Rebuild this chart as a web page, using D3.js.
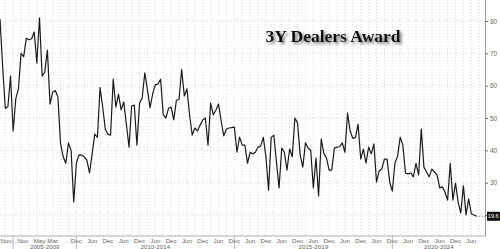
<!DOCTYPE html>
<html>
<head>
<meta charset="utf-8">
<script src="https://cdn.jsdelivr.net/npm/d3@7"></script>
<style>
  body { margin: 0; background: #fff; }
  svg { display: block; }
</style>
</head>
<body>
<svg id="chart" width="500" height="249"></svg>
<script>
// 3Y auction dealer award (%), one value per auction:
// quarterly Aug 2003 - May 2007, then monthly Nov 2008 - Aug 2022
const awards = [
  80.6, 66, 53, 53.5, 63, 46, 56, 59, 70, 69, 74.7, 74.2, 74.5, 76.6, 67, 81,
  63, 64.2, 71, 54.3, 58, 58.5, 56.5, 42, 38, 36, 42.3, 40, 24, 36,
  38.6, 38.5, 38, 37, 33, 39, 45, 44, 59.4, 53.4, 46.5, 45,
  44.7, 62, 53.4, 57.4, 52.5, 55, 48, 41, 53.7, 54, 41.6, 54.6,
  56.2, 64, 58.7, 53.2, 57.5, 60.3, 60.5, 62, 51, 50, 53, 53.4,
  49.4, 55.5, 55.8, 65, 56.8, 59, 51, 44.7, 46.9, 46, 47.8, 49.4,
  50, 41.6, 54.6, 51, 52.5, 54.3, 49, 44.5, 46.6, 46.9, 47, 47.2,
  39.4, 44.1, 41.6, 41.6, 36, 39.4, 38.9, 39.4, 41, 41.3, 44, 38,
  27.7, 44, 44.7, 36.4, 28.4, 40.7, 39.4, 33.9, 40.4, 38, 50, 48.5,
  38.6, 34.8, 42.3, 40.7, 40, 28.4, 37.6, 25.9, 43.5, 39, 37.6, 33.9,
  33.9, 40.7, 41, 41.1, 42.3, 39.4, 51.5, 45.9, 43.7, 44, 48.1, 37.3,
  40.4, 36, 41, 38.9, 42, 30.2, 33.6, 34.2, 37.3, 37.3, 30.2, 27.4,
  36, 38.2, 44.1, 41.6, 33, 32.7, 33, 31.8, 36, 32.4, 46.6, 34.8,
  33.3, 31.8, 34.2, 33.3, 32.4, 28.4, 28.7, 27.1, 24.6, 36, 24.6, 29.9,
  24, 20.6, 29, 20, 25, 20.3, 20, 19.6
];

// bottom axis: position (auction index) and text
const tickIndex = [2.3, 5.3, 8.7, 15, 20, 25.5, 29, 35, 41, 47, 53, 59, 65, 71, 77, 83,
  89, 95, 101, 107, 113, 119, 125, 131, 137, 143, 149, 155, 161, 167, 173, 179];
const tickLabels = ["Nov", "\u2026", "Nov", "May", "Mar", "\u2026", "Dec", "Jun", "Dec", "Jun",
  "Dec", "Jun", "Dec", "Jun", "Dec", "Jun", "Dec", "Jun", "Dec", "Jun", "Dec", "Jun", "Dec",
  "Jun", "Dec", "Jun", "Dec", "Jun", "Dec", "Jun", "Dec", "Jun"];

const groupStart = [5, 29, 89, 149];
const groupNames = ["2005-2009", "2010-2014", "2015-2019", "2020-2024"];

const yTicks = [20, 30, 40, 50, 60, 70, 80];
const lastLabel = "19.6";

const plotRight = 485.5, plotBottom = 236;
const sans = "'Liberation Sans', Arial, sans-serif";

const svg = d3.select("#chart");

const x = d3.scaleLinear().domain([0, 184.2]).range([0, 485]);
const y = d3.scaleLinear().domain([13.5, 86.5]).range([plotBottom, 0]);

const last = awards[awards.length - 1];

// grid
const grid = svg.append("g").attr("stroke", "#c8c8c8").attr("stroke-width", 0.7)
  .attr("stroke-dasharray", "1,2");

grid.selectAll(".vg")
  .data(d3.range(2, 184, 3))
  .enter().append("line")
  .attr("x1", d => x(d)).attr("x2", d => x(d))
  .attr("y1", 0).attr("y2", plotBottom);

grid.selectAll(".hg")
  .data(yTicks)
  .enter().append("line")
  .attr("x1", 0).attr("x2", plotRight)
  .attr("y1", d => y(d)).attr("y2", d => y(d));

// title
const defs = svg.append("defs");
defs.append("filter").attr("id", "shadow")
  .attr("x", "-10%").attr("y", "-30%").attr("width", "130%").attr("height", "180%")
  .append("feDropShadow")
  .attr("dx", 2).attr("dy", 2).attr("stdDeviation", 1.5)
  .attr("flood-color", "#555").attr("flood-opacity", 0.85);

svg.append("text")
  .attr("x", 333).attr("y", 42)
  .attr("text-anchor", "middle")
  .attr("font-family", "'Liberation Serif', 'Times New Roman', serif")
  .attr("font-weight", "bold")
  .attr("font-size", 17.5)
  .attr("fill", "#111")
  .attr("filter", "url(#shadow)")
  .text("3Y Dealers Award");

// series
const line = d3.line()
  .x((d, i) => x(i))
  .y(d => y(d));

svg.append("path")
  .datum(awards)
  .attr("fill", "none")
  .attr("stroke", "#1a1a1a")
  .attr("stroke-width", 1.2)
  .attr("stroke-linejoin", "round")
  .attr("d", line);

// right axis (the label nearest the last value is covered by its marker)
const yAxis = d3.axisRight(y).tickValues(yTicks).tickSize(2.5).tickPadding(2)
  .tickFormat(d => Math.abs(d - last) < 3 ? "" : d);
const ya = svg.append("g")
  .attr("transform", "translate(" + plotRight + ",0)")
  .call(yAxis);
ya.select(".domain").attr("stroke", "#999").attr("d", "M0,0V" + plotBottom);
ya.selectAll(".tick line").attr("stroke", "#666");
ya.selectAll(".tick text")
  .attr("fill", "#666")
  .attr("font-family", sans)
  .attr("font-size", 6.5);

// last value marker
const lastY = y(last);
svg.append("line")
  .attr("x1", x(awards.length - 1)).attr("x2", plotRight)
  .attr("y1", lastY).attr("y2", lastY)
  .attr("stroke", "#555").attr("stroke-width", 0.7).attr("stroke-dasharray", "1,1.5");
svg.append("rect")
  .attr("x", plotRight + 1.5).attr("y", lastY - 4.5)
  .attr("width", 13).attr("height", 9)
  .attr("fill", "#111");
svg.append("text")
  .attr("x", plotRight + 2.3).attr("y", lastY + 2)
  .attr("fill", "#fff")
  .attr("font-family", sans)
  .attr("font-size", 5.6)
  .text(lastLabel);

// bottom axis
const xa = svg.append("g");
xa.append("line")
  .attr("x1", 0).attr("x2", plotRight)
  .attr("y1", plotBottom).attr("y2", plotBottom)
  .attr("stroke", "#999").attr("stroke-width", 0.8);

xa.selectAll(".tl")
  .data(tickIndex)
  .enter().append("text")
  .attr("x", d => x(d))
  .attr("y", plotBottom + 6.5)
  .attr("text-anchor", "middle")
  .attr("fill", "#666")
  .attr("font-family", sans)
  .attr("font-size", 6.2)
  .text((d, i) => tickLabels[i]);

xa.selectAll(".gs")
  .data(groupStart)
  .enter().append("line")
  .attr("x1", d => x(d)).attr("x2", d => x(d))
  .attr("y1", plotBottom).attr("y2", 249)
  .attr("stroke", "#999").attr("stroke-width", 0.7);

xa.selectAll(".gn")
  .data(groupStart)
  .enter().append("text")
  .attr("x", (d, i) => {
    const end = i < groupStart.length - 1 ? x(groupStart[i + 1]) : plotRight;
    return (x(d) + end) / 2;
  })
  .attr("y", plotBottom + 12.5)
  .attr("text-anchor", "middle")
  .attr("fill", "#666")
  .attr("font-family", sans)
  .attr("font-size", 6.2)
  .text((d, i) => groupNames[i]);
</script>
</body>
</html>
